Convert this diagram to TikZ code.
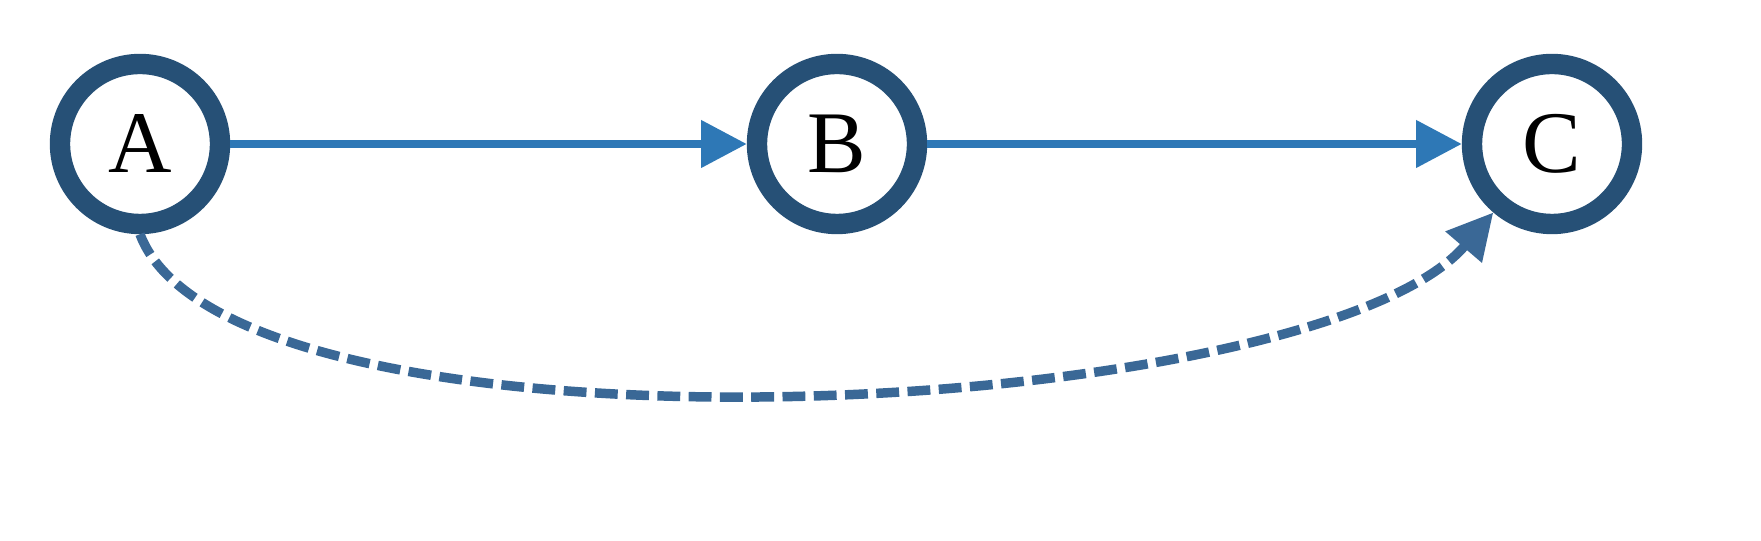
\documentclass[tikz,border=0pt]{standalone}
\usepackage{fontspec}
\setmainfont{Liberation Serif}
\usepackage{tikz}
\usetikzlibrary{arrows.meta}
\usetikzlibrary{calc}
\definecolor{GDRing}{RGB}{38,80,118}
\definecolor{GDEdge}{RGB}{46,120,182}
\definecolor{GDDash}{RGB}{58,104,150}

\begin{document}
\begin{tikzpicture}[>={Triangle[length=13pt,width=13pt]},
		state/.style={circle,draw=GDRing,line width=5.8pt,minimum size=1.6cm,inner sep=0pt,font=\fontsize{25}{29}\selectfont},
		edge/.style={->,GDEdge,line width=2.4pt},
		skip/.style={->,GDDash,line width=2.7pt,dash pattern=on 6.5pt off 2.4pt}]
			\useasboundingbox (0,0) rectangle (17.61,-5.41);
			\begin{scope}
				\node[state] (A) at (1.40,-1.44) {A};
				\node[state] (B) at (8.37,-1.44) {B};
				\node[state] (C) at (15.52,-1.44) {C};
			
				\draw[edge] (A) to (B);
				\draw[edge] (B) to (C);
				\draw[skip] (A.south) .. controls +(0.9,-2.4) and +(-2.4,-2.8) .. (C);
			\end{scope}
		\end{tikzpicture}
\end{document}
